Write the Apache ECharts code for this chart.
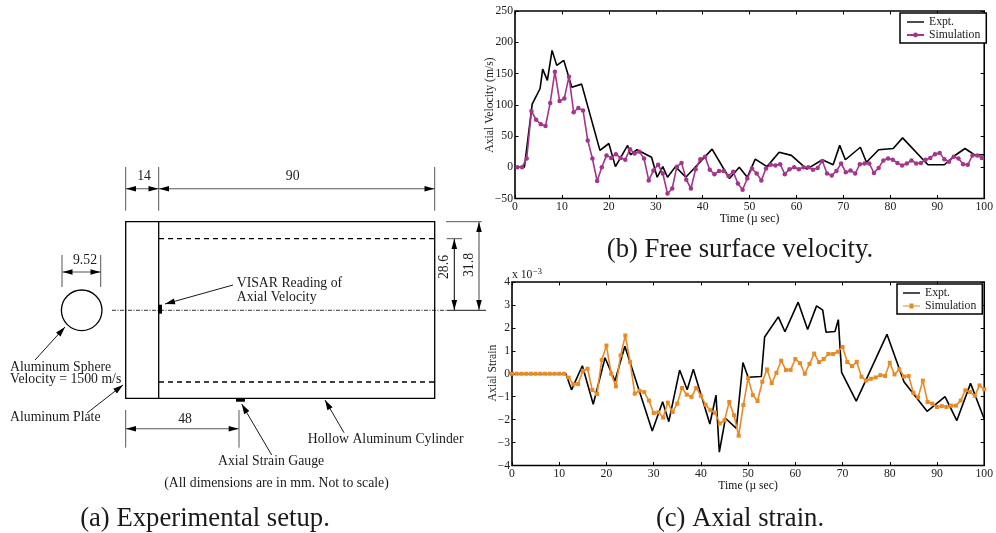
<!DOCTYPE html>
<html><head><meta charset="utf-8">
<style>html,body{margin:0;padding:0;background:#fff}#c{width:996px;height:533px}</style>
<script src="https://cdn.jsdelivr.net/npm/echarts@6/dist/echarts.min.js"></script>
</head><body><div id="c"></div>
<script>
const exptVelT=[0,2,3.66,5.35,5.9,6.9,7.9,8.9,10.4,12.1,14.2,18.1,20,21.4,24,24.6,26,29.1,30.3,31.5,32.5,34.2,36.4,42,45.7,47.8,49.5,51.2,53.7,56.3,58.9,62.2,65.5,67.8,69.2,70.4,73.6,74.9,77.5,80.6,82.6,88,91.5,93.6,95.9,97.9,100];
const exptVel=[0,0,101,126,157,139,187,163,171,128,133,27,38,1,35,20,28,16,-16,1,-16,1,-16,29,-18,0,-16,13,1,24,19,-3,12,4,35,12,32,8,28,30,47,4,4,18,30,20,20];
const simVelT=[0.5,1.5,2.5,3.5,4.5,5.5,6.5,7.5,8.5,9.5,10.5,11.5,12.5,13.5,14.5,15.5,16.5,17.5,18.5,19.5,20.5,21.5,22.5,23.5,24.5,25.5,26.5,27.5,28.5,29.5,30.5,31.5,32.5,33.5,34.5,35.5,36.5,37.5,38.5,39.5,40.5,41.5,42.5,43.5,44.5,45.5,46.5,47.5,48.5,49.5,50.5,51.5,52.5,53.5,54.5,55.5,56.5,57.5,58.5,59.5,60.5,61.5,62.5,63.5,64.5,65.5,66.5,67.5,68.5,69.5,70.5,71.5,72.5,73.5,74.5,75.5,76.5,77.5,78.5,79.5,80.5,81.5,82.5,83.5,84.5,85.5,86.5,87.5,88.5,89.5,90.5,91.5,92.5,93.5,94.5,95.5,96.5,97.5,98.5,99.5];
const simVel=[0,0,14,90,76,69,66,103,153,106,110,145,88,95,91,43,14,-22,0,19,15,21,15,12,29,22,25,14,-21,-5,4,-10,-42,-34,1,7,-20,-34,-3,13,17,-4,-11,-6,-6,-14,-7,-26,-36,-18,-2,-10,-21,-2,4,3,5,-11,-3,0,-3,0,0,-4,-1,10,-10,-13,-6,6,-8,-5,-10,5,6,6,-9,-1,11,14,12,7,3,6,11,6,7,12,15,21,23,13,9,17,14,5,4,19,19,15];
const exptStrT=[0,11.4,12.6,14.9,17.2,19.7,21.8,23.9,29.7,31.9,33.2,35.5,37.1,38.4,41.9,43.2,43.9,45.2,47.5,48.9,50,52.8,53.5,56.4,57.8,60.6,62.6,64.5,65.8,66.5,68.4,69.1,69.8,72.9,79.4,83,87.9,91.7,94.2,97.1,100];
const exptStr=[0,0,-0.7,0.35,-1.33,0.7,-0.32,1.2,-2.5,-1.22,-2.09,0.16,-0.7,0.2,-2.19,-0.93,-3.42,-1.94,-2.38,0.49,-0.15,-0.12,1.6,2.48,1.83,3.12,1.93,2.96,2.77,1.81,1.84,2.36,0.06,-1.19,1.72,-0.35,-1.64,-1,-2.04,-0.42,-1.97];
const simStr=[0,0,0,0,0,0,0,0,0,0,0,0,-0.17,-0.46,-0.45,0.13,0.22,-0.71,-0.88,0.6,1.23,0,-0.55,0.8,1.67,0.52,-0.87,-0.74,-0.8,-1.17,-1.71,-1.68,-1.91,-1.26,-1.67,-1.3,-0.62,-0.91,-1.01,-0.62,-0.96,-1.35,-1.59,-1.7,-2.17,-2.03,-1.23,-1.81,-2.7,-1.36,-0.19,-0.93,-1.19,-0.35,0.19,-0.41,0.04,0.57,0.16,0.17,0.64,0.46,0,0.43,0.88,0.51,0.64,0.86,0.86,0.96,1.17,0.51,0.33,0.52,-0.13,-0.3,-0.22,-0.16,-0.06,-0.1,0.48,-0.03,0.2,-0.12,-0.1,-0.83,-1.03,-0.3,-1.23,-1.3,-1.45,-1.41,-1.45,-1.39,-1.39,-1.17,-0.72,-0.8,-0.96,-0.51,-0.68];
const simStrT=simStr.map((_,i)=>i);
const seriesNames=['Expt.','Simulation'];
const xLabel='Time (\u00b5 sec)', yLabelVel='Axial Velocity (m/s)', yLabelStr='Axial Strain';
const captions=['(a) Experimental setup.','(b) Free surface velocity.','(c) Axial strain.'];

const FONT='"Liberation Serif","Times New Roman",serif';
const BLACK='#000', PURPLE='#a4358c', ORANGE='#e88a25', DIM='#555';
const zip=(a,b)=>a.map((x,i)=>[x,b[i]]);
const minus=v=>String(v).replace('-','\u2212');
const tick={inside:true,length:3.5,lineStyle:{color:BLACK,width:1}};
const noLine={show:false,onZero:false};

function xAxes(g,gap){
  const base={gridIndex:g,type:'value',min:0,max:100,interval:10};
  return [
    {...base,position:'bottom',name:xLabel,nameLocation:'middle',nameGap:gap,nameTextStyle:{fontFamily:FONT,fontSize:11.7,color:'#111'},
     axisLine:noLine,axisTick:tick,splitLine:{show:false},
     axisLabel:{fontFamily:FONT,fontSize:11.7,color:'#222',margin:2,hideOverlap:false,showMinLabel:true,showMaxLabel:true}},
    {...base,position:'top',axisLine:noLine,axisTick:tick,splitLine:{show:false},axisLabel:{show:false}}
  ];
}
function yAxes(g,min,max,iv){
  const base={gridIndex:g,type:'value',min,max,interval:iv};
  return [
    {...base,position:'left',axisLine:noLine,axisTick:tick,splitLine:{show:false},
     axisLabel:{fontFamily:FONT,fontSize:11.7,color:'#222',margin:2,formatter:minus,showMinLabel:true,showMaxLabel:true}},
    {...base,position:'right',axisLine:noLine,axisTick:tick,splitLine:{show:false},axisLabel:{show:false}}
  ];
}
const legendBase={orient:'vertical',backgroundColor:'#fff',borderColor:BLACK,borderWidth:1.5,borderRadius:0,padding:[3,6,2,6],itemGap:1,itemWidth:17,itemHeight:6,
  textStyle:{fontFamily:FONT,fontSize:11.7,color:'#222'},selectedMode:false};
const ICON_LINE='path://M0 0H17V1.4H0Z';
const ICON_RECT='path://M0 2.1H17V2.9H0Z M6.5 0H10.5V5H6.5Z';

// ---- diagram helpers (schematic panel)
const g=[];
const line=(x1,y1,x2,y2,c,w,dash)=>g.push({type:'line',silent:true,shape:{x1,y1,x2,y2},style:{stroke:c||BLACK,lineWidth:w||1.3,lineDash:dash||null}});
const head=(x,y,fx,fy,L,W,c)=>{const d=Math.hypot(x-fx,y-fy),ux=(x-fx)/d,uy=(y-fy)/d,bx=x-ux*L,by=y-uy*L;
  g.push({type:'polygon',silent:true,shape:{points:[[x,y],[bx-uy*W,by+ux*W],[bx+uy*W,by-ux*W]]},style:{fill:c||BLACK}});};
const arrow=(x1,y1,x2,y2)=>{line(x1,y1,x2,y2,BLACK,0.9);head(x2,y2,x1,y1,10,3);};
const dim=(x1,y1,x2,y2)=>{line(x1,y1,x2,y2,DIM,1.1);head(x1,y1,x2,y2,10,2.8);head(x2,y2,x1,y1,10,2.8);};
const text=(s,x,y,o)=>g.push({type:'text',silent:true,x,y,rotation:o&&o.rot||0,style:{text:s,fill:'#1a1a1a',font:(o&&o.size||13.75)+'px '+FONT,textAlign:o&&o.align||'left',textVerticalAlign:'middle'}});

g.push({type:'rect',silent:true,shape:{x:125.7,y:221.7,width:309,height:176.6},style:{fill:'none',stroke:BLACK,lineWidth:1.3}});
line(158.7,221.7,158.7,398.3);
line(159,238.7,434.7,238.7,BLACK,1.3,[5,4]);
line(159,382,434.7,382,BLACK,1.3,[5,4]);
line(112,310.3,447,310.3,BLACK,0.8,[4,1.5,1,1.5]);
line(447,310.3,486,310.3,BLACK,0.9);
g.push({type:'circle',silent:true,shape:{cx:81.7,cy:310.3,r:20.3},style:{fill:'none',stroke:BLACK,lineWidth:1.3}});
g.push({type:'rect',silent:true,shape:{x:158,y:304.7,width:4,height:9},style:{fill:BLACK}});
g.push({type:'rect',silent:true,shape:{x:236,y:398.3,width:9,height:3.4},style:{fill:BLACK}});
// extension lines
[[125.7,167,125.7,210.7],[158.7,167,158.7,210.7],[434.7,167,434.7,210.7],[62,255,62,287],[100.7,255,100.7,287],
 [125.7,410,125.7,447.7],[239,410,239,447.7],[446.7,238.7,462,238.7],[446,221.7,481.7,221.7]].forEach(a=>line(a[0],a[1],a[2],a[3],DIM,1));
dim(126,188.7,158.5,188.7);dim(159,188.7,434.5,188.7);dim(62.5,272,100.5,272);dim(126,428.7,238.7,428.7);
line(454.3,239,454.3,310,BLACK,1);head(454.3,239,454.3,310,10,2.8);head(454.3,310,454.3,239,10,2.8);
line(479,222,479,310,DIM,1.1);head(479,222,479,310,10,2.8);head(479,310,479,222,10,2.8);
arrow(233,285,165,304);arrow(35,360,65,327);arrow(87,413,123,385);arrow(271.7,455,241.7,404);arrow(344,432.7,325,400);
text('14',144,176.5,{align:'center'});text('90',292.7,176.5,{align:'center'});text('9.52',85,260,{align:'center'});text('48',185,419,{align:'center'});
text('28.6',444,267,{align:'center',rot:Math.PI/2});text('31.8',469,265,{align:'center',rot:Math.PI/2});
text('VISAR Reading of',236.7,283.5);text('Axial Velocity',236.7,297);
text('Aluminum Sphere',10,367);text('Velocity = 1500 m/s',10,379);text('Aluminum Plate',10,417);
text('Axial Strain Gauge',218,461);text('Hollow Aluminum Cylinder',307.7,439);
text('(All dimensions are in mm. Not to scale)',276.5,483,{align:'center'});
text(captions[0],205,518.5,{size:26.7,align:'center'});text(captions[1],740,249.5,{size:26.7,align:'center'});text(captions[2],740,518.5,{size:26.7,align:'center'});
// axis names and magnitude label
text(yLabelVel,490,105,{size:11.7,align:'center',rot:Math.PI/2});
text(yLabelStr,493,373,{size:11.7,align:'center',rot:Math.PI/2});
g.push({type:'text',silent:true,x:512,y:275,style:{rich:{a:{font:'11.7px '+FONT,fill:'#222'},s:{font:'9px '+FONT,fill:'#222',verticalAlign:'top',padding:[0,0,6,0]}},text:'{a|x 10}{s|\u22123}',textVerticalAlign:'middle'}});

const lineSeries=(name,x,y,data,color,symbol,size)=>({type:'line',name,xAxisIndex:x,yAxisIndex:y,data,color,symbol,symbolSize:size||1,showSymbol:!!symbol,silent:true,animation:false,
  lineStyle:{color,width:1.6},itemStyle:{color},clip:false});

const chart=echarts.init(document.getElementById('c'),null,{renderer:'canvas'});
chart.setOption({
  animation:false,backgroundColor:'#fff',
  grid:[{left:515,width:473,top:11,height:187.5,show:true,borderColor:BLACK,borderWidth:1.6,backgroundColor:'transparent'},
        {left:512,width:473,top:282,height:183.5,show:true,borderColor:BLACK,borderWidth:1.6,backgroundColor:'transparent'}],
  xAxis:[...xAxes(0,12),...xAxes(1,13)],
  yAxis:[...yAxes(0,-50,250,50),...yAxes(1,-4,4,1)],
  legend:[
    {...legendBase,left:900,top:13,data:[{name:seriesNames[0],icon:ICON_LINE},{name:seriesNames[1]}]},
    {...legendBase,left:897,top:284,data:[{name:seriesNames[0],icon:ICON_LINE},{name:seriesNames[1],icon:ICON_RECT,itemStyle:{color:ORANGE},lineStyle:{color:ORANGE}}]}
  ],
  series:[
    lineSeries(seriesNames[0],0,0,zip(exptVelT,exptVel),BLACK,'none'),
    lineSeries(seriesNames[1],0,0,zip(simVelT,simVel),PURPLE,'circle',4.5),
    lineSeries(seriesNames[0],2,2,zip(exptStrT,exptStr),BLACK,'none'),
    lineSeries(seriesNames[1],2,2,zip(simStrT,simStr),ORANGE,'rect',4)
  ],
  graphic:{elements:g}
});
</script></body></html>
